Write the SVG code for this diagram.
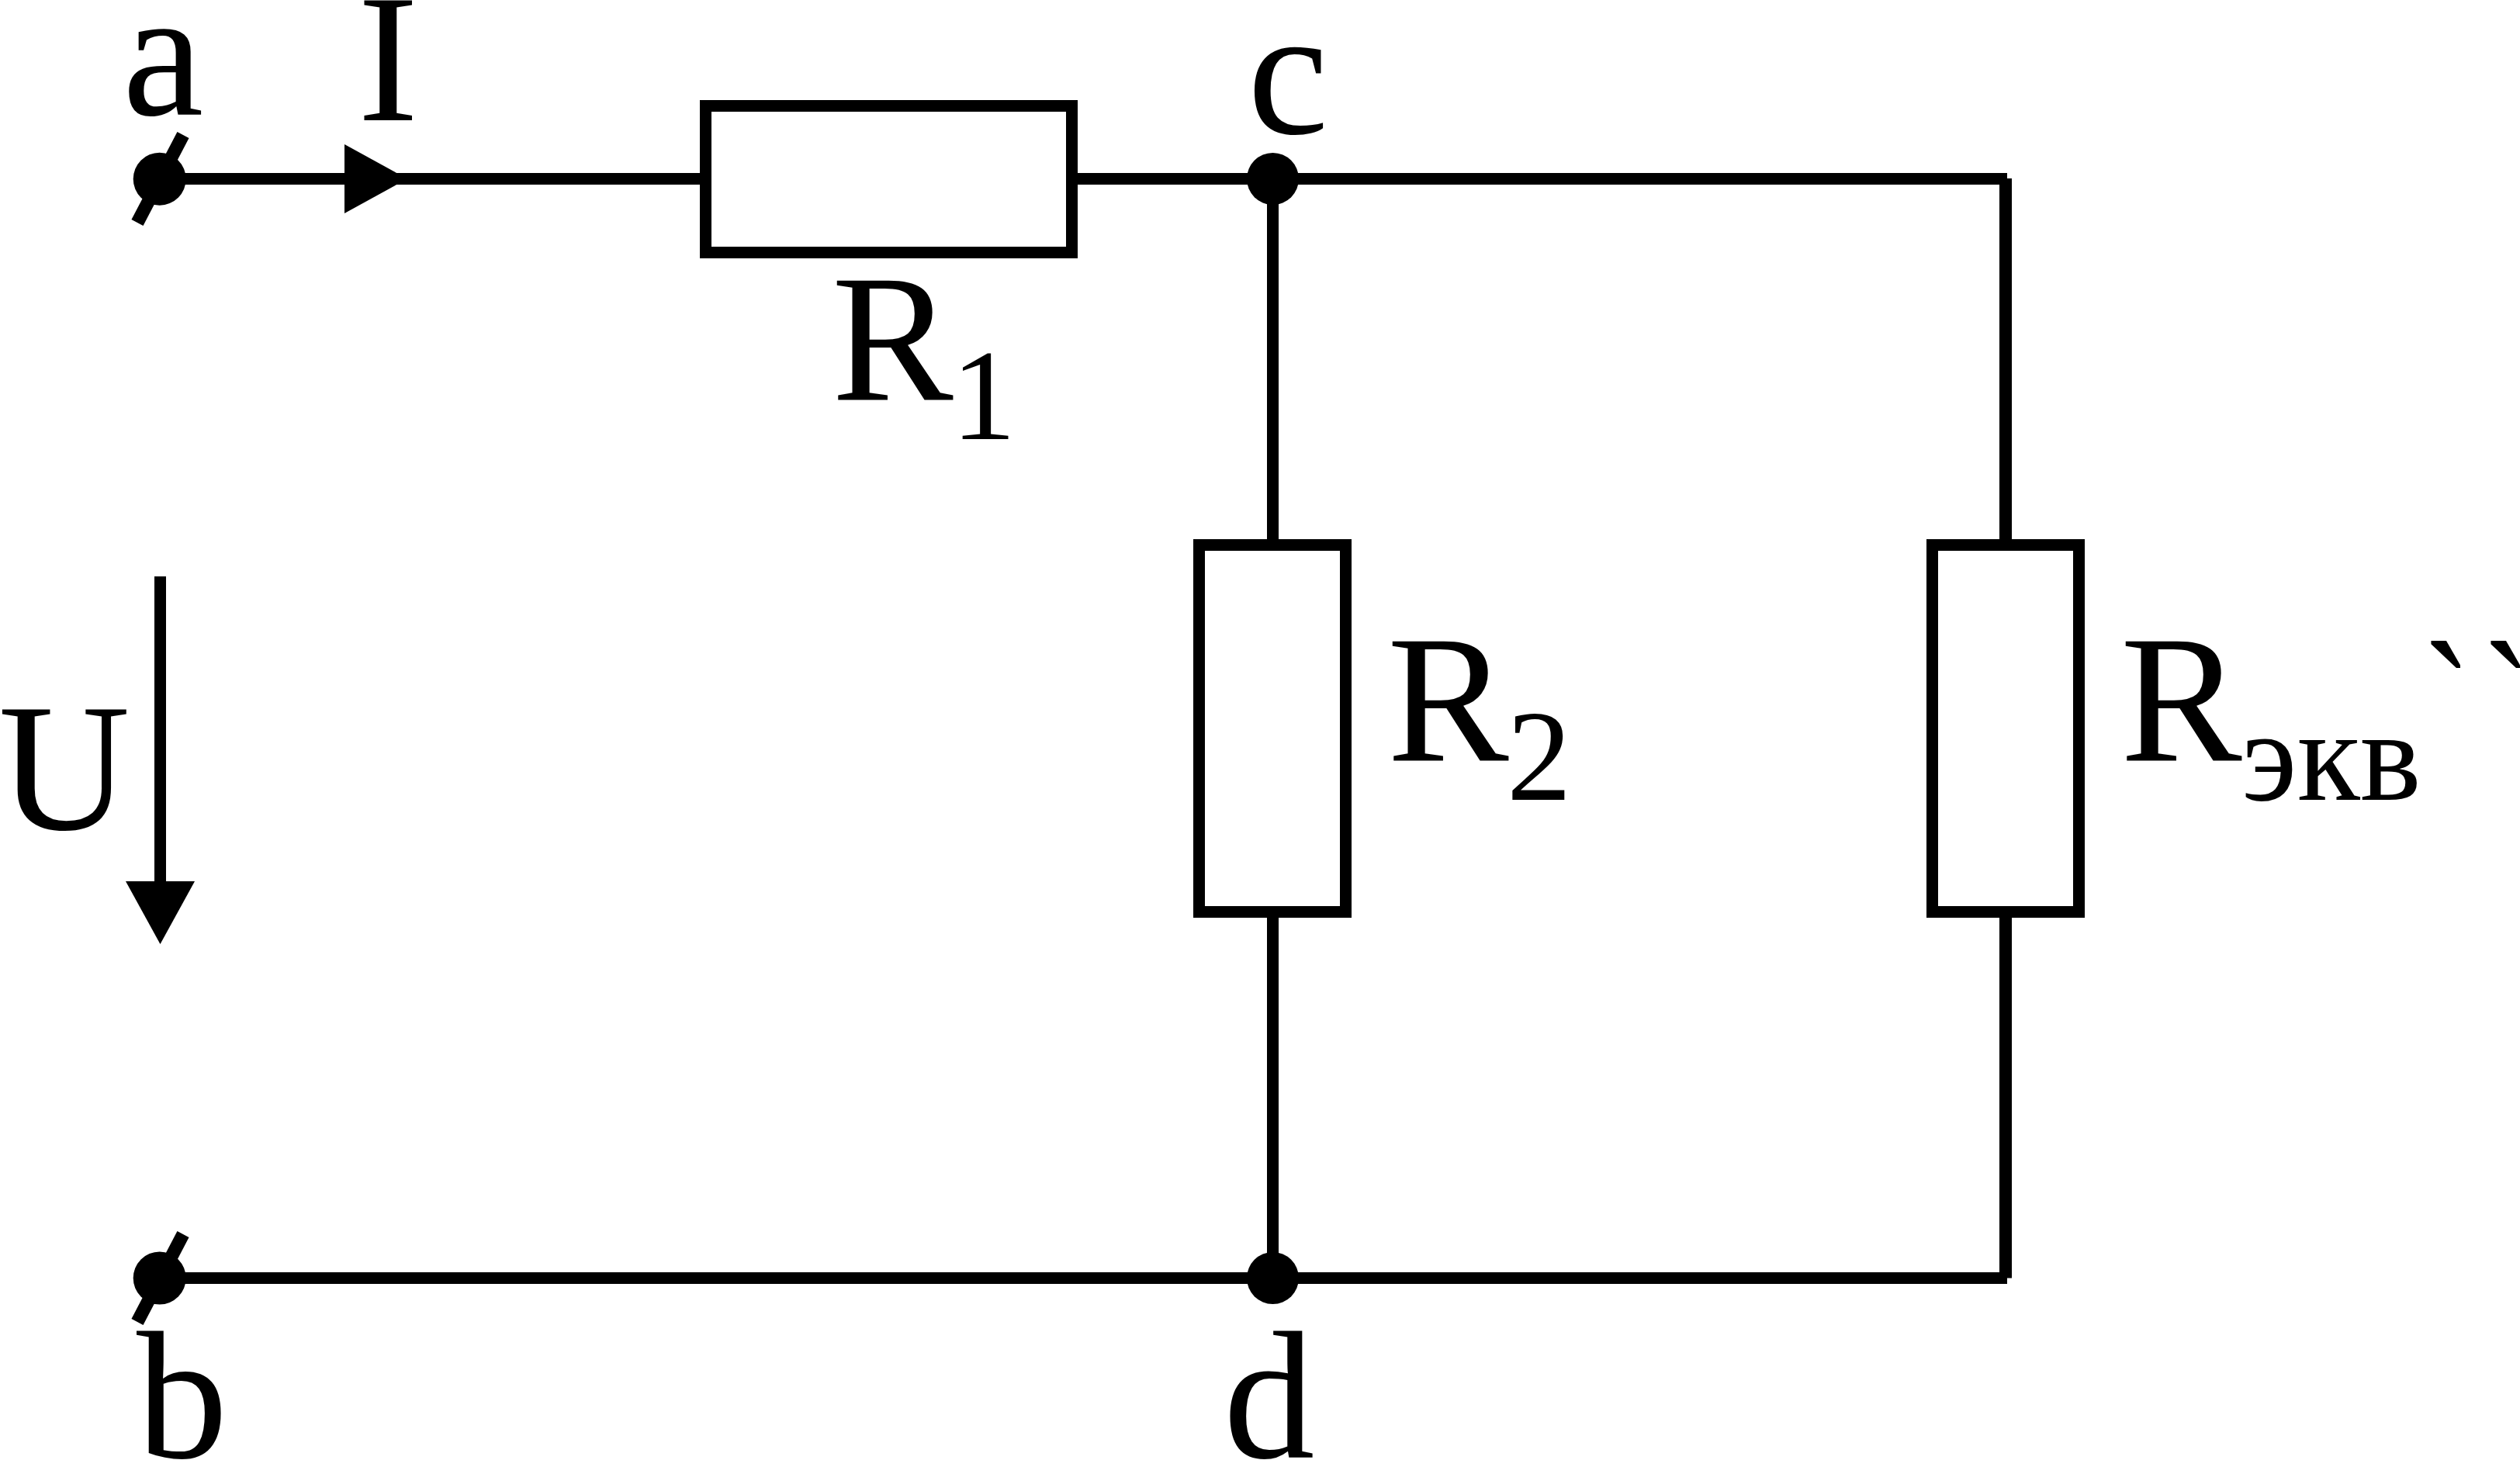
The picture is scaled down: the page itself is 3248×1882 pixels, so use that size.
<svg xmlns="http://www.w3.org/2000/svg" width="3248" height="1882" viewBox="0 0 3248 1882">
<style>
.t{font-family:"Liberation Serif","Times New Roman",serif;font-size:235px;fill:#000}
.s{font-family:"Liberation Serif","Times New Roman",serif;font-size:167px;fill:#000}
.w{stroke:#000;stroke-width:15;fill:none;stroke-linecap:butt}
.r{stroke:#000;stroke-width:15;fill:#fff}
.f{fill:#000}
.k{stroke:#000;stroke-width:17;fill:none}
</style>
<rect width="3248" height="1882" fill="#fff"/>
<g id="connectors">
<line class="w" x1="205" y1="230.5" x2="2587" y2="230.5"/>
<line class="w" x1="205" y1="1647.5" x2="2587" y2="1647.5"/>
<line class="w" x1="1640.5" y1="230" x2="1640.5" y2="1647"/>
<line class="w" x1="2585" y1="230" x2="2585" y2="1647.5" style="stroke-width:16"/>
<line class="w" x1="206.5" y1="743" x2="206.5" y2="1140"/>
<polygon class="f" points="444,186 525,230.5 444,275" id="arrow-i"/>
<polygon class="f" points="162,1136 251,1136 206.5,1217" id="arrow-u"/>
</g>
<g id="node-a"><circle class="f" cx="205.7" cy="230.7" r="34"/><line class="k" x1="236" y1="174" x2="177" y2="287"/><text class="t" x="158" y="148">a</text></g>
<g id="node-b"><circle class="f" cx="205.7" cy="1647.5" r="34"/><line class="k" x1="236" y1="1591" x2="177" y2="1704"/><text class="t" x="176" y="1879">b</text></g>
<g id="node-c"><circle class="f" cx="1640.5" cy="230.5" r="33.5"/><text class="t" x="1608" y="172">c</text></g>
<g id="node-d"><circle class="f" cx="1640.5" cy="1647.5" r="33.5"/><text class="t" x="1577" y="1879">d</text></g>
<g id="label-i"><text class="t" x="461" y="155">I</text></g>
<g id="label-u"><text class="t" x="-2" y="1069">U</text></g>
<g id="r1"><rect class="r" x="909.5" y="136.5" width="472" height="189"/><text class="t" x="1072" y="515.5">R</text><text class="s" x="1226" y="565.5">1</text></g>
<g id="r2"><rect class="r" x="1545.5" y="702.5" width="189" height="473"/><text class="t" x="1788" y="981">R</text><text class="s" x="1942" y="1031">2</text></g>
<g id="r3"><rect class="r" x="2490.5" y="702.5" width="189" height="473"/><text class="t" x="2733" y="981">R</text><text class="s" x="2889" y="1031">экв</text><text class="t" transform="translate(3122.6 990) scale(.8 1)" x="0" y="0" letter-spacing="18">``</text></g>
</svg>
